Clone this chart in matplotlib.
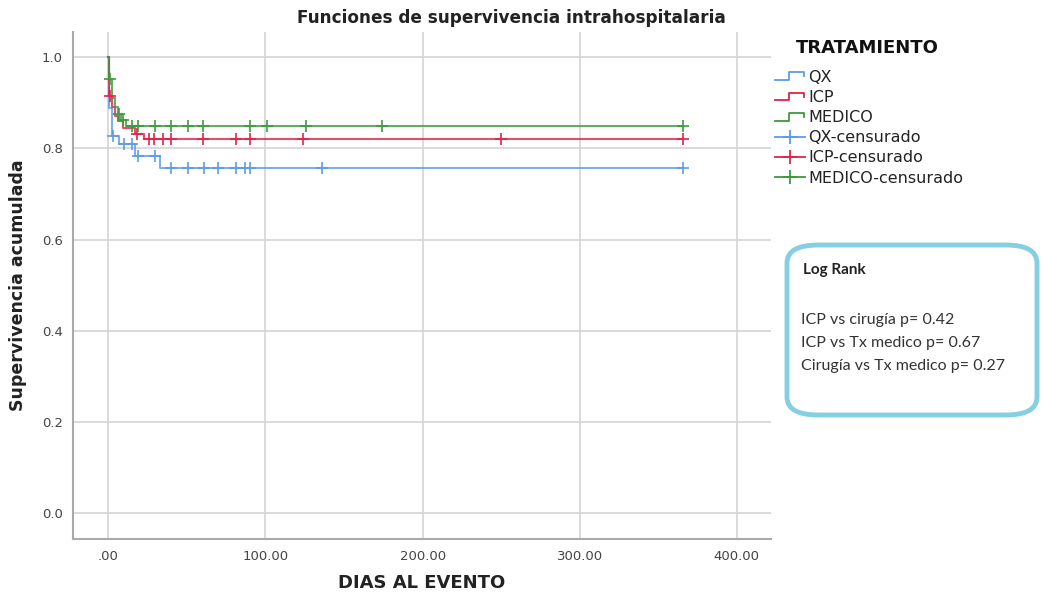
import numpy as np
import matplotlib.pyplot as plt
from matplotlib.lines import Line2D
from matplotlib.legend_handler import HandlerBase
from matplotlib.patches import FancyBboxPatch

# step times (days) and cumulative survival after each step
qx_t = [0, 0.5, 2, 7, 17, 33, 366]
qx_s = [1.0, 0.888, 0.828, 0.81, 0.784, 0.758, 0.758]
qx_cens = [3, 10, 15, 19, 30, 40, 51, 61, 70, 81, 87, 90, 136, 366]

icp_t = [0, 0.5, 2, 4, 6, 9, 17, 23, 366]
icp_s = [1.0, 0.914, 0.89, 0.87, 0.86, 0.845, 0.832, 0.82, 0.82]
icp_cens = [1, 18, 26, 29, 35, 40, 60, 81, 90, 124, 250, 366]

med_t = [0, 0.5, 2, 4, 6, 8, 11, 366]
med_s = [1.0, 0.951, 0.91, 0.89, 0.875, 0.862, 0.85, 0.85]
med_cens = [1, 6.5, 9.6, 15, 19, 30, 40, 51, 60, 90, 101, 126, 174, 366]

groups = ["QX", "ICP", "MEDICO"]
colors = ["#5b9bea", "#e0224a", "#3c9a3c"]


def surv_at(t, times, surv):
    idx = np.searchsorted(times, t, side="right") - 1
    return np.array(surv)[idx]


fig = plt.figure(figsize=(10.42, 5.99), dpi=100)
ax = fig.add_axes([72.7 / 1042, 1 - 539 / 599, (770.7 - 72.7) / 1042, (539 - 32) / 599])

data = [(qx_t, qx_s, qx_cens), (icp_t, icp_s, icp_cens), (med_t, med_s, med_cens)]
for (t, s, c), col in zip(data, colors):
    ax.step(t, s, where="post", color=col, lw=1.5, alpha=0.8, zorder=3)
    ax.plot(c, surv_at(c, t, s), ls="none", marker="+", ms=8, mew=1.4,
            color=col, alpha=0.85, zorder=4)

ax.set_xlim(-22.7, 421.6)
ax.set_ylim(-0.056, 1.055)
ax.set_xticks([0, 100, 200, 300, 400])
ax.set_xticklabels([".00", "100.00", "200.00", "300.00", "400.00"])
ax.set_yticks([0, 0.2, 0.4, 0.6, 0.8, 1.0])
ax.set_yticklabels(["0.0", "0.2", "0.4", "0.6", "0.8", "1.0"])
ax.grid(True, color="#d4d4d4", lw=1.2)
ax.set_axisbelow(True)
ax.tick_params(length=0, labelsize=9.5, labelcolor="#444444")
ax.tick_params(axis="x", pad=8)
ax.tick_params(axis="y", pad=7)
for sp in ["top", "right"]:
    ax.spines[sp].set_visible(False)
for sp in ["left", "bottom"]:
    ax.spines[sp].set_color("#aaaaaa")
    ax.spines[sp].set_linewidth(1.5)

fig.text(511 / 1042, 1 - 18 / 599, "Funciones de supervivencia intrahospitalaria",
         fontsize=12.2, fontweight="bold", color="#222222", ha="center", va="center")
ax.set_xlabel("DIAS AL EVENTO", fontsize=13, fontweight="bold", color="#222222", labelpad=8)
ax.set_ylabel("Supervivencia acumulada", fontsize=12.5, fontweight="bold", color="#222222", labelpad=11)


class StepHandler(HandlerBase):
    def create_artists(self, legend, orig, xd, yd, w, h, fontsize, trans):
        x = [0, w * 0.45, w * 0.45, w * 0.95, w * 0.95]
        y = [h * 0.15, h * 0.15, h * 0.85, h * 0.85, h * 0.5]
        ln = Line2D(np.array(x) - xd, np.array(y) - yd, color=orig.get_color(), lw=1.3)
        ln.set_transform(trans)
        return [ln]


line_handles = [Line2D([], [], color=c) for c in colors]
cens_handles = [Line2D([], [], color=c, marker="+", ms=10, mew=1.3, lw=1.3) for c in colors]
labels = groups + [g + "-censurado" for g in groups]
leg = fig.legend(line_handles + cens_handles, labels, loc="upper left",
                 bbox_to_anchor=(775 / 1042, 1 - 70 / 599), frameon=False,
                 fontsize=11.5, handlelength=1.9, borderpad=0, borderaxespad=0,
                 handletextpad=0.2, labelspacing=0.32,
                 handler_map={h: StepHandler() for h in line_handles})
for t in leg.get_texts():
    t.set_color("#222222")
fig.text(867 / 1042, 1 - 48 / 599, "TRATAMIENTO", fontsize=13, fontweight="bold",
         color="#111111", ha="center", va="center")

box = FancyBboxPatch((787 / 1042, 1 - 415 / 599), 250 / 1042, 170 / 599,
                     boxstyle="round,pad=0,rounding_size=0.03", transform=fig.transFigure,
                     facecolor="white", edgecolor="#86cfe3", lw=3.5)
fig.patches.append(box)
fig.text(803 / 1042, 1 - 270 / 599, "Log Rank", fontsize=11, fontweight="bold",
         family="Lato", color="#222222", va="center")
pvals = ["ICP vs cirugía p= 0.42", "ICP vs Tx medico p= 0.67", "Cirugía vs Tx medico p= 0.27"]
for i, s in enumerate(pvals):
    fig.text(801 / 1042, 1 - (320 + 23 * i) / 599, s, fontsize=11.5, family="Lato",
             color="#333333", va="center")

fig.savefig("out.png", dpi=100)
